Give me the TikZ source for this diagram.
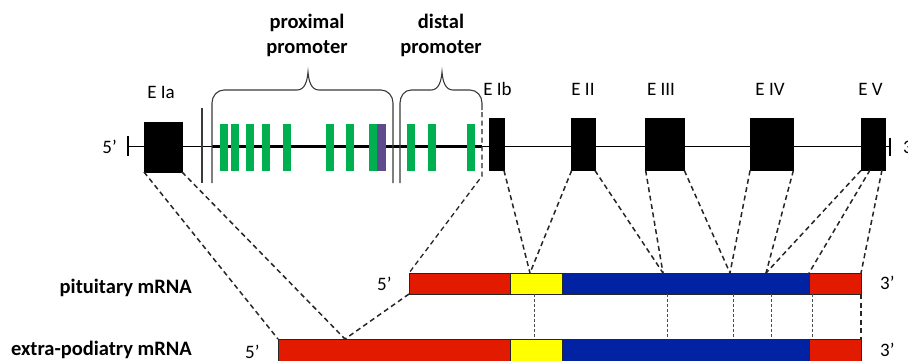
\documentclass[tikz,border=0pt]{standalone}
\usepackage{fontspec}
\setmainfont{Carlito}
\definecolor{exred}{HTML}{E21B00}
\definecolor{exyellow}{HTML}{FFFF00}
\definecolor{exblue}{HTML}{0022A3}
\definecolor{regreen}{HTML}{00B050}
\definecolor{repurple}{HTML}{5F4A8B}
\definecolor{bracegray}{HTML}{3A3A3A}
\begin{document}
\begin{tikzpicture}[x=1pt,y=-1pt,
  font=\fontsize{19}{25}\selectfont,
  exon/.style={rectangle, fill=black, draw=black, inner sep=0pt, outer sep=0pt, minimum height=52pt},
  seg/.style={rectangle, draw=black!85, line width=0.8pt, inner sep=0pt, outer sep=0pt, minimum height=21pt},
  lbl/.style={anchor=base, inner sep=0pt},
  boldlbl/.style={inner sep=0pt, font=\fontsize{20.5}{25}\selectfont\bfseries},
  map/.style={dash pattern=on 5pt off 3.5pt, line width=1.5pt, black!85},
  fine/.style={dash pattern=on 3pt off 2pt, line width=0.7pt, black!70},
  brace/.style={line width=1.1pt, bracegray}
]
\useasboundingbox (0,0) rectangle (908,360);

% gene backbone with end ticks
\draw[line width=1.6pt] (128,146.5) -- (890,146.5);
\draw[line width=2.6pt] (212,146.5) -- (482,146.5);
\draw[line width=1.4pt] (128,136) -- (128,156);
\draw[line width=1.4pt] (890,138) -- (890,156);
\node[anchor=base east, inner sep=0pt] (five) at (117,153) {5’};
\node[anchor=base west, inner sep=0pt] (three) at (903,153) {3’};

% promoter elements
\foreach \cx in {223.9,235.3,250.3,266,286.7,330,350,373.3,411.2,431.7,471.3}
  \fill[regreen] (\cx-4,124) rectangle (\cx+4,170.5);
\fill[repurple] (377.3,124) rectangle (386,170.5);

% exons
\node[exon, minimum width=38pt, minimum height=50pt] (Eia) at (163,147) {};
\node[exon, minimum width=15pt] (Eib) at (496.5,144.5) {};
\node[exon, minimum width=23.3pt] (Eii) at (583.3,144.5) {};
\node[exon, minimum width=38.7pt] (Eiii) at (665,144.5) {};
\node[exon, minimum width=43.3pt] (Eiv) at (771.7,144.5) {};
\node[exon, minimum width=24.7pt] (Ev) at (873.3,144.5) {};

\node[lbl] (lEia) at (161,98) {E Ia};
\node[lbl] (lEib) at (497.5,95) {E Ib};
\node[lbl] (lEii) at (583,95) {E II};
\node[lbl] (lEiii) at (661,95) {E III};
\node[lbl] (lEiv) at (770,95) {E IV};
\node[lbl] (lEv) at (870.5,95) {E V};

% promoter braces
\draw[brace] (202,108) -- (202,183);
\draw[brace] (212,183) -- (212,103) to[out=90,in=180] (224,90) -- (297,90)
  to[out=0,in=-95] (308,72) to[out=-85,in=180] (319,90) -- (381,90)
  to[out=0,in=90] (393,103) -- (393,183);
\draw[brace] (400,183) -- (400,103) to[out=90,in=180] (411,90) -- (431,90)
  to[out=0,in=-95] (442,72) to[out=-85,in=180] (453,90) -- (470,90)
  to[out=0,in=90] (482,103) -- (482,110);

\node[boldlbl, align=center, anchor=base] (prox) at (307,53) {proximal\\promoter};
\node[boldlbl, align=center, anchor=base] (dist) at (441,53) {distal\\promoter};

% pituitary transcript
\node[seg, fill=exred, minimum width=101pt] (p1) at (459.5,283.5) {};
\node[seg, fill=exyellow, minimum width=52pt] (p2) at (536,283.5) {};
\node[seg, fill=exblue, minimum width=247pt] (p3) at (685.5,283.5) {};
\node[seg, fill=exred, minimum width=52pt] (p4) at (835,283.5) {};

% extra-pituitary transcript
\node[seg, fill=exred, minimum width=232pt, minimum height=24pt] (e1) at (394,351) {};
\node[seg, fill=exyellow, minimum width=52pt, minimum height=24pt] (e2) at (536,351) {};
\node[seg, fill=exblue, minimum width=247pt, minimum height=24pt] (e3) at (685.5,351) {};
\node[seg, fill=exred, minimum width=52pt, minimum height=24pt] (e4) at (835,351) {};

\node[boldlbl, anchor=base east] (pit) at (192,293) {pituitary mRNA};
\node[boldlbl, anchor=base east] (ext) at (192,355) {extra-podiatry mRNA};
\node[anchor=base west, inner sep=0pt] (p5) at (377,290) {5’};
\node[anchor=base west, inner sep=0pt] (e5) at (245,358) {5’};
\node[anchor=base west, inner sep=0pt] (p3l) at (880,289) {3’};
\node[anchor=base west, inner sep=0pt] (e3l) at (880,356) {3’};

% junction points on the transcripts
\coordinate (bend) at (482,176);
\coordinate (j1) at (345,339);
\coordinate (j2) at (530,273);
\coordinate (j3) at (663,273);
\coordinate (j4) at (730,273);
\coordinate (j5) at (766,273);
\coordinate (v2) at (870,170);
\coordinate (v3) at (882,170);

% promoter and exon mapping onto the transcripts
\draw[map] (Eia.south west) -- (e1.north west);
\draw[map] (Eia.south east) -- (j1);
\draw[map, line width=1.3pt] (482,112) -- (bend) -- (p1.north west);
\draw[map] (p1.south west) -- (j1);
\draw[map] (Eib.south east) -- (j2);
\draw[map] (Eii.south west) -- (j2);
\draw[map] (Eii.south east) -- (j3);
\draw[map] (Eiii.south west) -- (j3);
\draw[map] (Eiii.south east) -- (j4);
\draw[map] (Eiv.south west) -- (j4);
\draw[map] (Eiv.south east) -- (j5);
\draw[map] (Ev.south west) -- (j5);
\draw[map] (v2) -- (p4.north west);
\draw[map] (v3) -- (p4.north east);
\draw[map] (p4.south east) -- (e4.north east);

% exon boundaries shared by both transcripts
\foreach \bx in {534,667,733,771,812}
  \draw[fine] (\bx,294) -- (\bx,339);
\end{tikzpicture}
\end{document}
